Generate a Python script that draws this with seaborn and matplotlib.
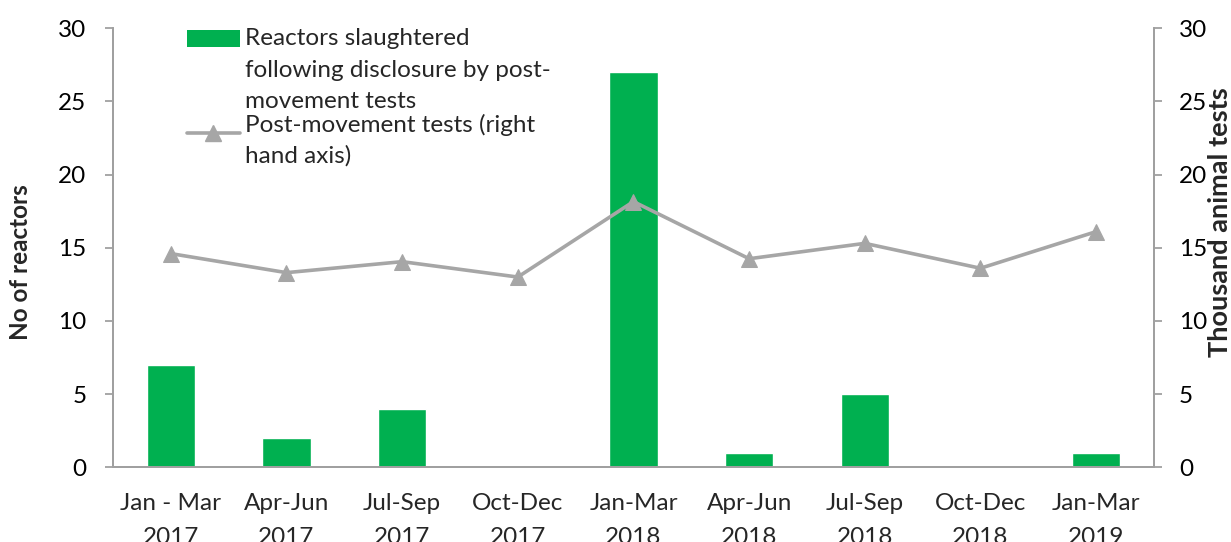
import matplotlib
matplotlib.use("Agg")
import matplotlib.pyplot as plt
from matplotlib.patches import Patch
from matplotlib.lines import Line2D
from matplotlib.legend_handler import HandlerPatch, HandlerLine2D
import seaborn as sns
import numpy as np
import pandas as pd

# --- data ---
quarters = ["Jan - Mar\n2017", "Apr-Jun\n2017", "Jul-Sep\n2017", "Oct-Dec\n2017",
            "Jan-Mar\n2018", "Apr-Jun\n2018", "Jul-Sep\n2018", "Oct-Dec\n2018",
            "Jan-Mar\n2019"]
reactors = [7, 2, 4, 0, 27, 1, 5, 0, 1]
tests_thousand = [14.6, 13.3, 14.05, 13.0, 18.15, 14.25, 15.3, 13.6, 16.1]
y_ticks = [0, 5, 10, 15, 20, 25, 30]

GREEN = "#00B050"
LINE_GREY = "#A6A6A6"
AXIS_GREY = "#A0A0A0"
FS = 17.5

sns.set_style("white")
plt.rcParams['font.family'] = ['Lato', 'DejaVu Sans']


# legend handlers that lift the handle onto the first line of a wrapped label
class LiftedPatch(HandlerPatch):
    def __init__(self, lift, **kw):
        super().__init__(**kw)
        self.lift = lift

    def create_artists(self, legend, orig_handle, xdescent, ydescent,
                       width, height, fontsize, trans):
        return super().create_artists(legend, orig_handle, xdescent,
                                      ydescent - self.lift * fontsize,
                                      width, height, fontsize, trans)


class LiftedLine(HandlerLine2D):
    def __init__(self, lift, **kw):
        super().__init__(**kw)
        self.lift = lift

    def create_artists(self, legend, orig_handle, xdescent, ydescent,
                       width, height, fontsize, trans):
        return super().create_artists(legend, orig_handle, xdescent,
                                      ydescent - self.lift * fontsize,
                                      width, height, fontsize, trans)


df = pd.DataFrame({"quarter": quarters, "reactors": reactors,
                   "tests": tests_thousand, "pos": np.arange(len(quarters))})

fig = plt.figure(figsize=(12.31, 5.42), dpi=100)
ax = fig.add_axes([0.0918, 0.1375, 0.8456, 0.8108])
ax2 = ax.twinx()

sns.barplot(data=df, x="quarter", y="reactors", ax=ax, color=GREEN,
            saturation=1, width=0.42)
sns.lineplot(data=df, x="pos", y="tests", ax=ax2, color=LINE_GREY, lw=2.6,
             marker="^", markersize=12, markeredgecolor=LINE_GREY, legend=False)

for a in (ax, ax2):
    a.set_ylim(0, 30)
    a.set_yticks(y_ticks)
    a.set_xlim(-0.5, len(quarters) - 0.5)
    for s in a.spines.values():
        s.set_color(AXIS_GREY)
        s.set_linewidth(1.3)
    a.spines["top"].set_visible(False)
    a.tick_params(axis="y", length=6, width=1.3, color=AXIS_GREY,
                  labelsize=FS, labelcolor="black", direction="out")
ax.tick_params(axis="y", pad=13)
ax2.tick_params(axis="y", pad=12)

ax.set_xticks(np.arange(len(quarters)))
ax.set_xticklabels(quarters, linespacing=1.75)
ax.tick_params(axis="x", length=0, labelsize=FS, pad=18.5)
ax.set_xlabel("")
ax.set_ylabel("No of reactors", fontsize=FS, fontweight="bold")
ax.yaxis.set_label_coords(-0.078, 0.468)
ax2.set_ylabel("Thousand animal tests", fontsize=19.5, fontweight="bold")
ax2.yaxis.set_label_coords(1.052, 0.559)
ax2.set_xlabel("")

bar_proxy = Patch(facecolor=GREEN, edgecolor="none")
line_proxy = Line2D([], [], color=LINE_GREY, lw=2.6, marker="^",
                    markersize=12, markeredgecolor=LINE_GREY)
leg = ax.legend([bar_proxy, line_proxy],
                ["Reactors slaughtered\nfollowing disclosure by post-\nmovement tests",
                 "Post-movement tests (right\nhand axis)"],
                handler_map={bar_proxy: LiftedPatch(1.3),
                             line_proxy: LiftedLine(0.62)},
                loc="upper left", bbox_to_anchor=(0.071, 1.0),
                frameon=False, fontsize=FS, handlelength=2.18, handleheight=0.65,
                handletextpad=0.2, labelspacing=0.06, borderpad=0,
                borderaxespad=0)
texts = leg.get_texts()
texts[0].set_linespacing(1.62)
texts[1].set_linespacing(1.55)

fig.savefig("out.png", dpi=100)
